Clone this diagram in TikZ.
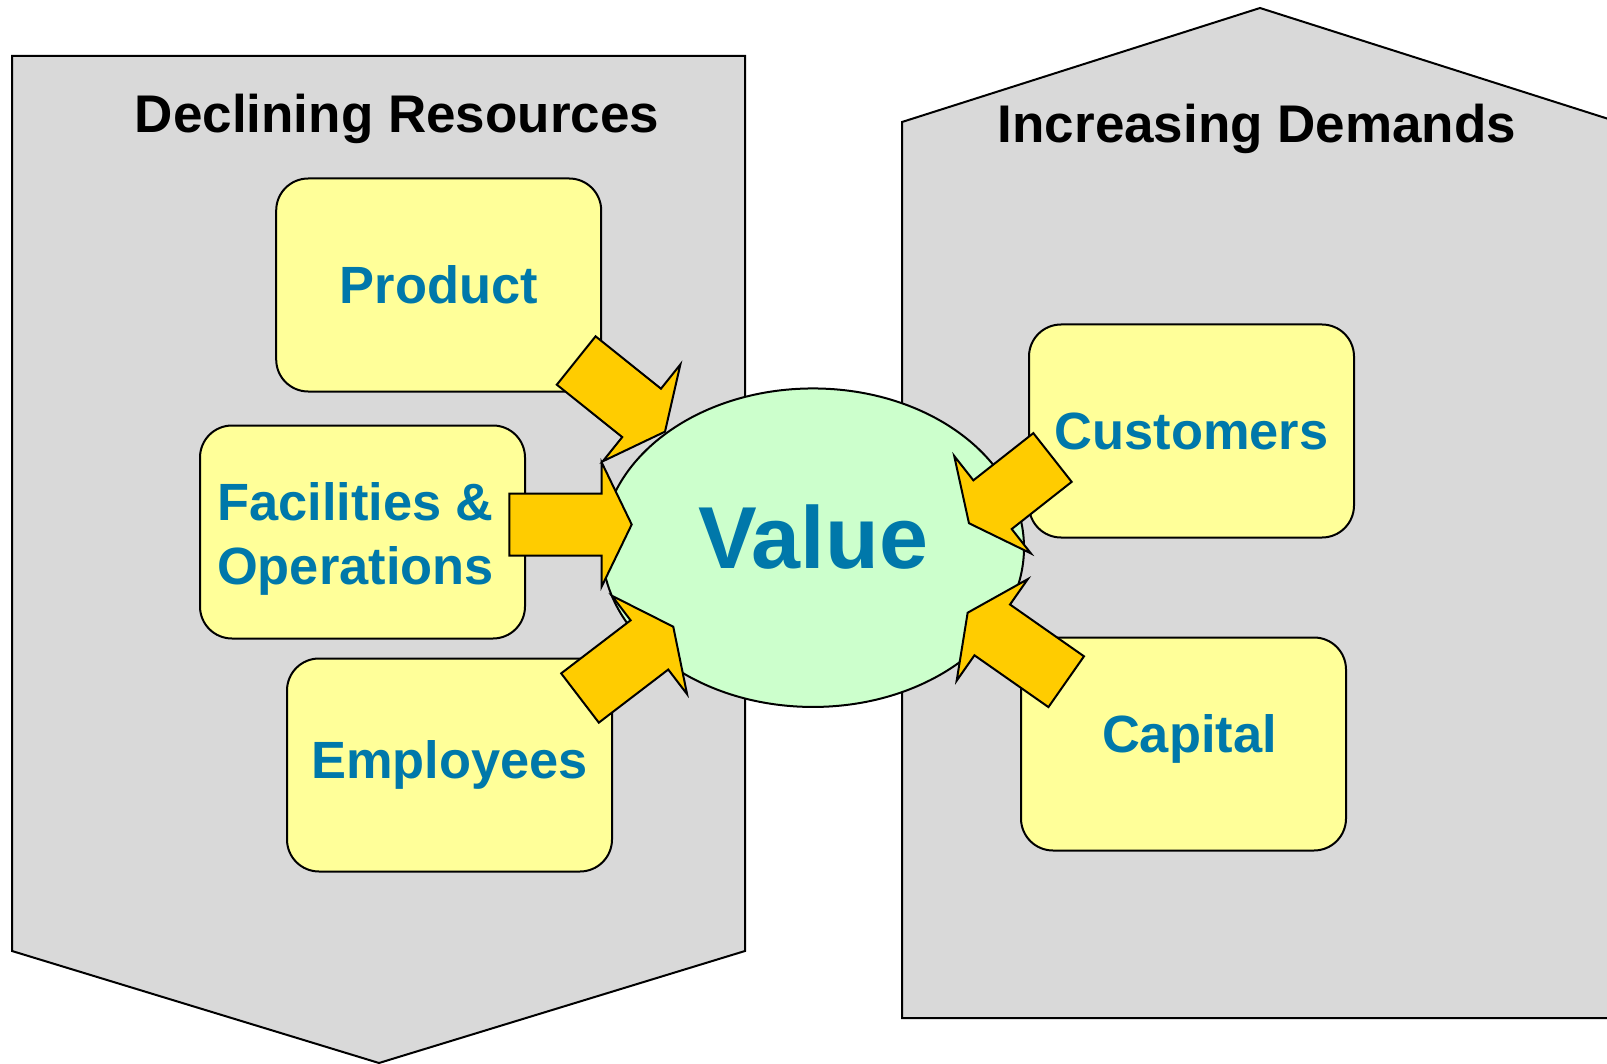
\documentclass[tikz,border=0pt]{standalone}
\usepackage{fontspec}
\setmainfont{Liberation Sans}
\usetikzlibrary{shapes.geometric}

\definecolor{panelgray}{RGB}{217,217,217}
\definecolor{boxyellow}{RGB}{255,255,153}
\definecolor{coregreen}{RGB}{204,255,204}
\definecolor{arrowgold}{RGB}{255,204,0}
\definecolor{valueblue}{RGB}{0,120,170}

\tikzset{
  pics/blockarrow/.style={code={
    \draw[arrowbody] (0,-31) -- (#1-30,-31) -- (#1-30,-62) -- (#1,0)
      -- (#1-30,62) -- (#1-30,31) -- (0,31) -- cycle;
  }}
}

\begin{document}
\begin{tikzpicture}
[x=0.5pt,y=-0.5pt,
 panel/.style={draw,line width=1pt,fill=panelgray},
 heading/.style={anchor=base,font=\fontsize{26.5}{32}\selectfont\bfseries},
 item/.style={rectangle,draw,line width=1pt,fill=boxyellow,rounded corners=16pt,
   minimum width=162.5pt,minimum height=106.5pt},
 itemtext/.style={text=valueblue,align=left,
   font=\fontsize{26.2}{32.2}\selectfont\bfseries},
 core/.style={ellipse,draw,line width=1pt,fill=coregreen,inner sep=0pt,
   minimum width=211pt,minimum height=159.25pt,text=valueblue,text depth=10.7pt,
   font=\fontsize{44}{52}\selectfont\bfseries},
 arrowbody/.style={draw,line width=1pt,fill=arrowgold,line join=miter}]
\clip (0,0) rectangle (1607,1064);
% the two panels
\draw[panel] (12,56) -- (745,56) -- (745,951) -- (379,1063) -- (12,951) -- cycle;
\draw[panel] (902,1018) -- (902,122) -- (1260,8) -- (1618,122) -- (1618,1018) -- cycle;
\node[heading] (decl) at (397,133) {Declining Resources};
\node[heading] (incr) at (1257,143) {Increasing Demands};
% resources and demands
\node[item] (product) at (438.7,285) {};
\node[item] (facil) at (362.5,532) {};
\node[item] (employ) at (449.5,765) {};
\node[item] (custom) at (1191.5,431) {};
\node[item] (capital) at (1183.5,744) {};
\node[itemtext] (producttxt) at (product) {Product};
\node[itemtext] (faciltxt) at ([xshift=-3.5pt,yshift=-3.5pt]facil.center) {Facilities \&\\Operations};
\node[itemtext] (employtxt) at (employ) {Employees};
\node[itemtext] (customtxt) at (custom) {Customers};
\node[itemtext] (capitaltxt) at ([xshift=3pt,yshift=2.5pt]capital.center) {Capital};
\node[core] (value) at (813,547.7) {Value};
% block arrows into the value
\pic[rotate=-38.7] at (576.2,360.5) {blockarrow=113.8};
\pic at (509.3,524.5) {blockarrow=122.4};
\pic[rotate=37.4] at (580,698) {blockarrow=117.4};
\pic[rotate=218.2] at (1052.5,457.5) {blockarrow=106.3};
\pic[rotate=145] at (1066.2,681.7) {blockarrow=120.3};
\end{tikzpicture}
\end{document}
